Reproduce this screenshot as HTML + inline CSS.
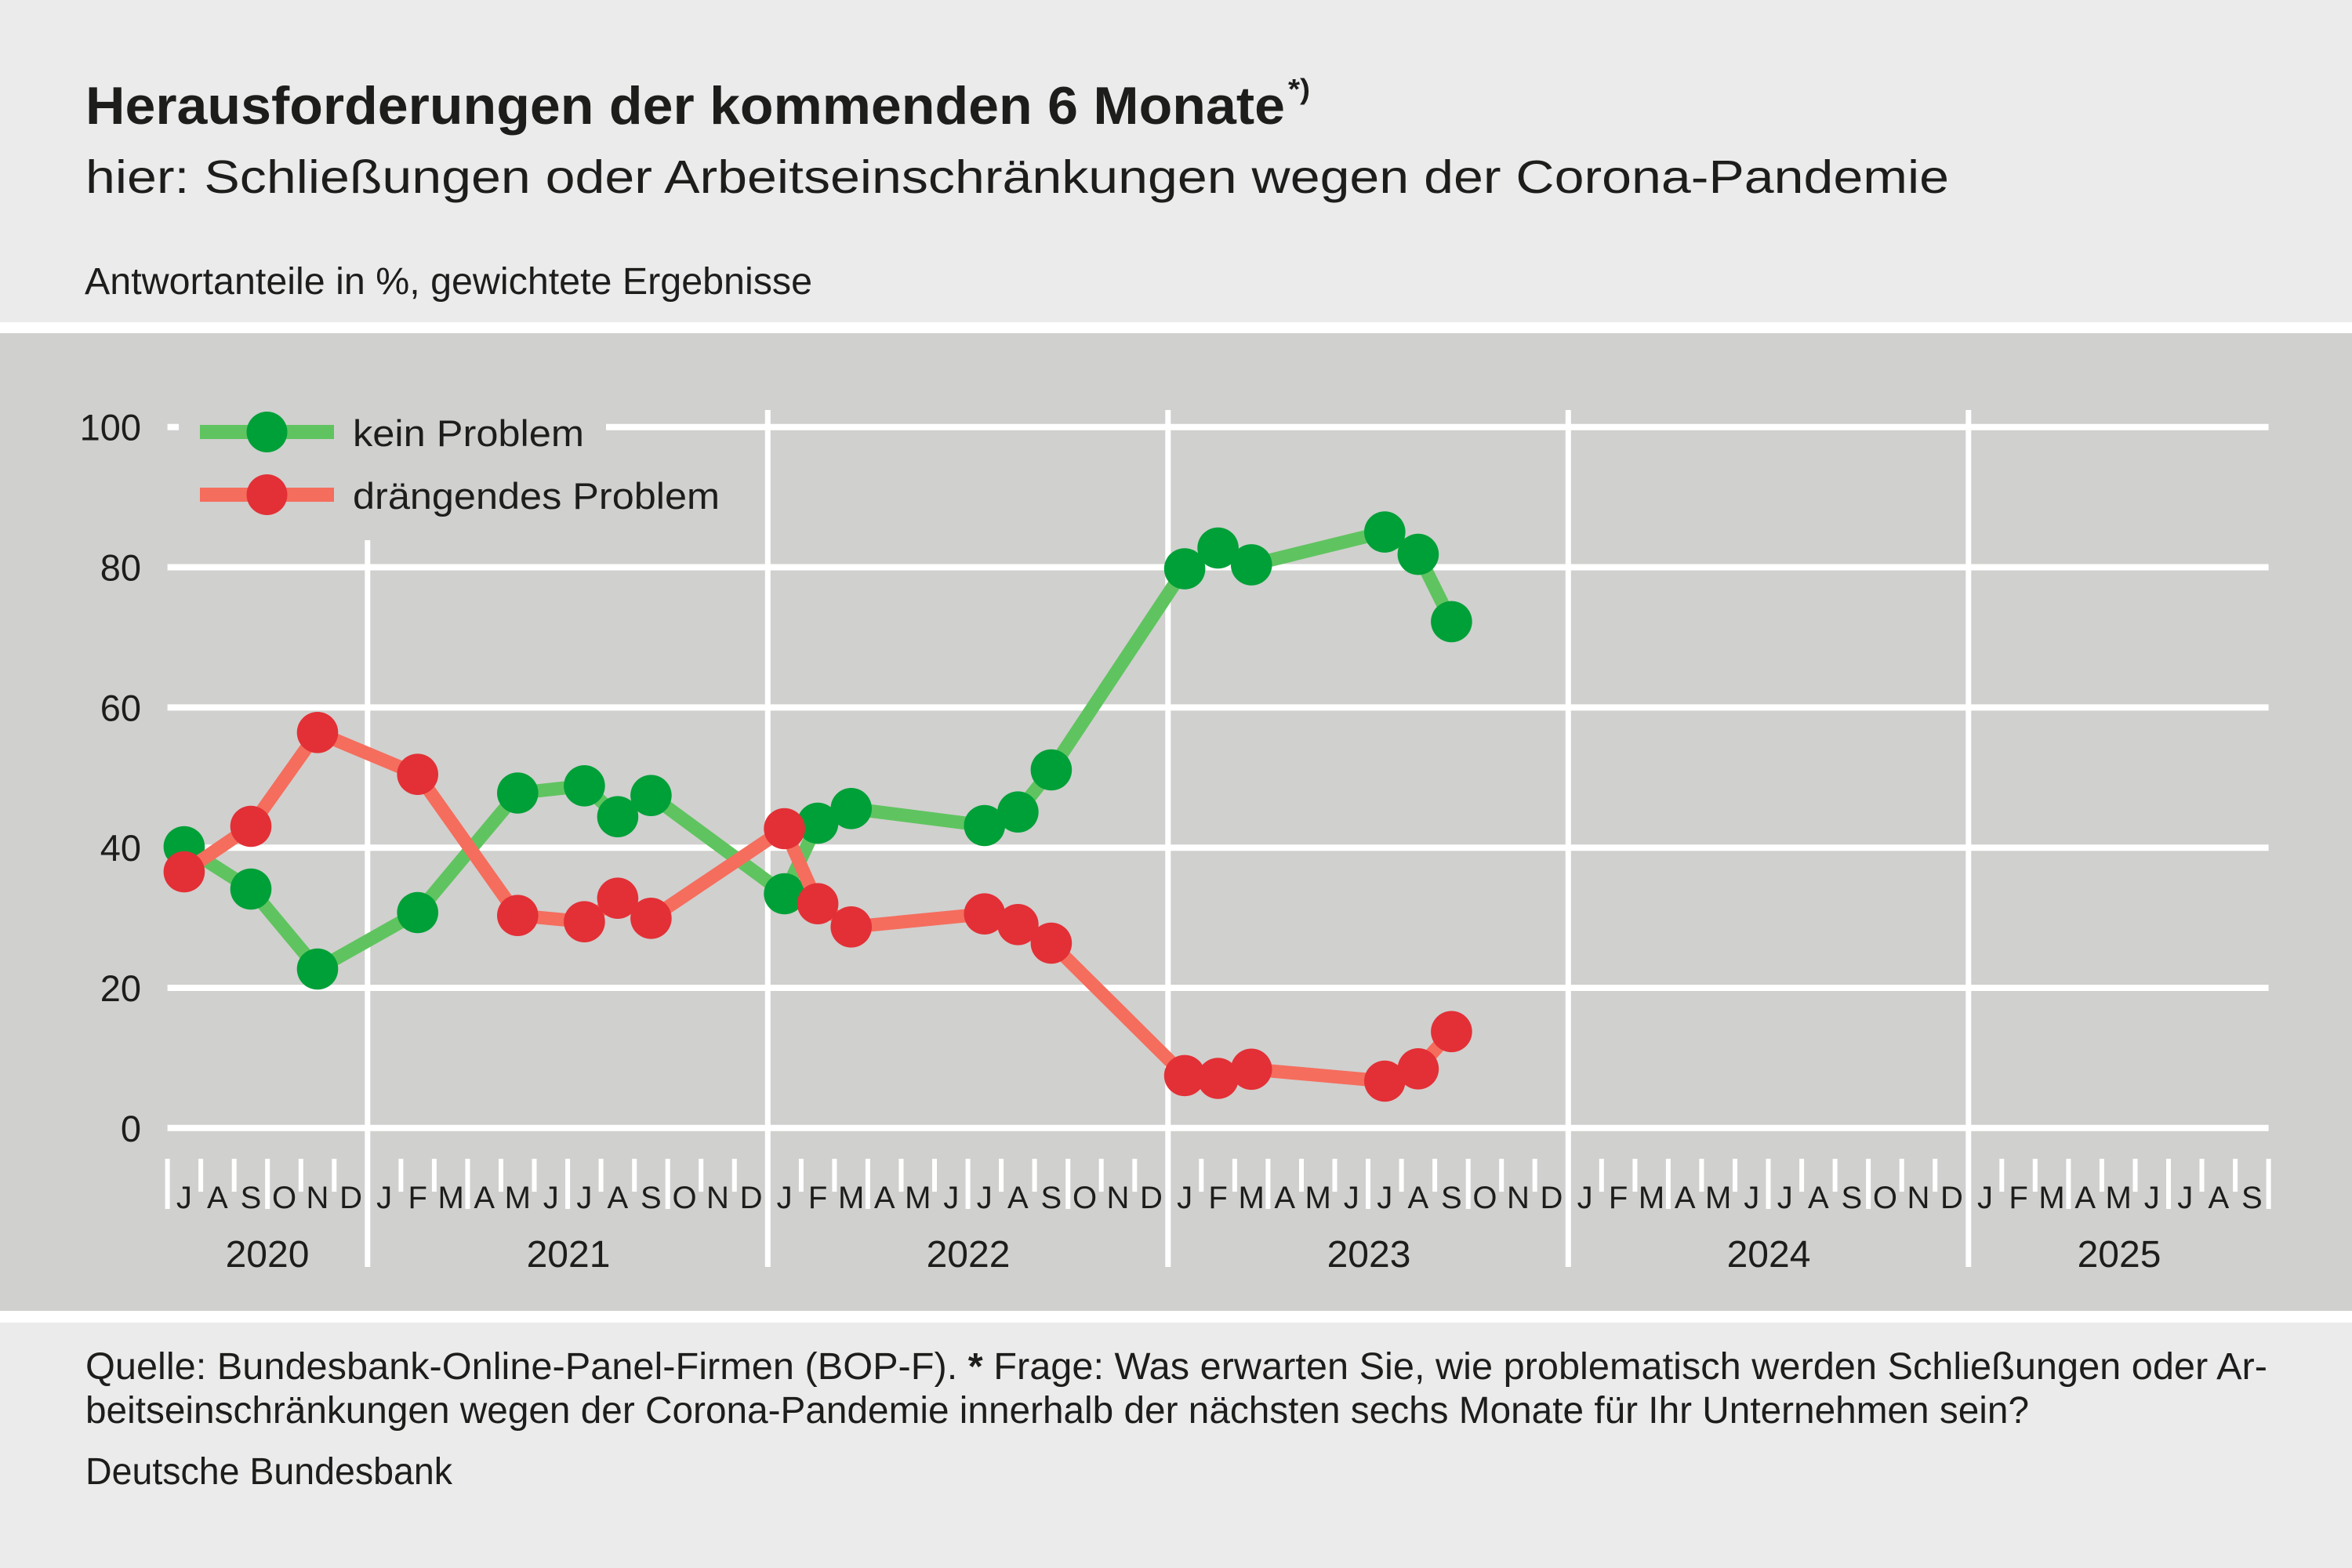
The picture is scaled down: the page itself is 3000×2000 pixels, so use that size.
<!DOCTYPE html>
<html><head><meta charset="utf-8"><style>
html,body{margin:0;padding:0;background:#ebebeb;}
svg{display:block;}
text{font-family:"Liberation Sans",Arial,sans-serif;fill:#1d1d1b;}
</style></head><body>
<svg xmlns="http://www.w3.org/2000/svg" width="3000" height="2000" viewBox="0 0 3000 2000">
<rect x="0" y="0" width="3000" height="2000" fill="#ebebeb"/>
<rect x="0" y="411" width="3000" height="14" fill="#ffffff"/>
<rect x="0" y="425" width="3000" height="1247" fill="#d0d0ce"/>
<rect x="0" y="1672" width="3000" height="15" fill="#ffffff"/>

<!-- titles -->
<text x="109" y="158" font-size="68" font-weight="bold" textLength="1530" lengthAdjust="spacingAndGlyphs">Herausforderungen der kommenden 6 Monate</text>
<text x="1643" y="126" font-size="36" font-weight="bold" textLength="28" lengthAdjust="spacingAndGlyphs">*)</text>
<text x="109" y="246" font-size="59" textLength="2377" lengthAdjust="spacingAndGlyphs">hier: Schließungen oder Arbeitseinschränkungen wegen der Corona-Pandemie</text>
<text x="108" y="375" font-size="48" textLength="928" lengthAdjust="spacingAndGlyphs">Antwortanteile in %, gewichtete Ergebnisse</text>

<!-- gridlines -->
<g stroke="#ffffff" stroke-width="8">
<line x1="213.6" y1="544.7" x2="228" y2="544.7"/>
<line x1="773" y1="544.7" x2="2893.6" y2="544.7"/>
<line x1="213.6" y1="723.5" x2="2893.6" y2="723.5"/>
<line x1="213.6" y1="902.4" x2="2893.6" y2="902.4"/>
<line x1="213.6" y1="1081.2" x2="2893.6" y2="1081.2"/>
<line x1="213.6" y1="1260" x2="2893.6" y2="1260"/>
<line x1="213.6" y1="1438.8" x2="2893.6" y2="1438.8"/>
</g>
<!-- year separators -->
<g stroke="#ffffff" stroke-width="7">
<line x1="468.8" y1="689" x2="468.8" y2="1616"/>
<line x1="979.3" y1="523" x2="979.3" y2="1616"/>
<line x1="1489.8" y1="523" x2="1489.8" y2="1616"/>
<line x1="2000.3" y1="523" x2="2000.3" y2="1616"/>
<line x1="2510.8" y1="523" x2="2510.8" y2="1616"/>
</g>
<!-- long ticks -->
<g stroke="#ffffff" stroke-width="6">
<line x1="213.6" y1="1478" x2="213.6" y2="1542"/>
<line x1="341.2" y1="1478" x2="341.2" y2="1542"/>
<line x1="596.5" y1="1478" x2="596.5" y2="1542"/>
<line x1="724.1" y1="1478" x2="724.1" y2="1542"/>
<line x1="851.7" y1="1478" x2="851.7" y2="1542"/>
<line x1="1106.9" y1="1478" x2="1106.9" y2="1542"/>
<line x1="1234.6" y1="1478" x2="1234.6" y2="1542"/>
<line x1="1362.2" y1="1478" x2="1362.2" y2="1542"/>
<line x1="1617.4" y1="1478" x2="1617.4" y2="1542"/>
<line x1="1745.0" y1="1478" x2="1745.0" y2="1542"/>
<line x1="1872.7" y1="1478" x2="1872.7" y2="1542"/>
<line x1="2127.9" y1="1478" x2="2127.9" y2="1542"/>
<line x1="2255.5" y1="1478" x2="2255.5" y2="1542"/>
<line x1="2383.1" y1="1478" x2="2383.1" y2="1542"/>
<line x1="2638.4" y1="1478" x2="2638.4" y2="1542"/>
<line x1="2766.0" y1="1478" x2="2766.0" y2="1542"/>
<line x1="2893.6" y1="1478" x2="2893.6" y2="1542"/>
</g>
<!-- short ticks -->
<g stroke="#ffffff" stroke-width="6">
<line x1="256.1" y1="1478" x2="256.1" y2="1520"/>
<line x1="298.7" y1="1478" x2="298.7" y2="1520"/>
<line x1="383.8" y1="1478" x2="383.8" y2="1520"/>
<line x1="426.3" y1="1478" x2="426.3" y2="1520"/>
<line x1="511.4" y1="1478" x2="511.4" y2="1520"/>
<line x1="553.9" y1="1478" x2="553.9" y2="1520"/>
<line x1="639.0" y1="1478" x2="639.0" y2="1520"/>
<line x1="681.5" y1="1478" x2="681.5" y2="1520"/>
<line x1="766.6" y1="1478" x2="766.6" y2="1520"/>
<line x1="809.2" y1="1478" x2="809.2" y2="1520"/>
<line x1="894.2" y1="1478" x2="894.2" y2="1520"/>
<line x1="936.8" y1="1478" x2="936.8" y2="1520"/>
<line x1="1021.9" y1="1478" x2="1021.9" y2="1520"/>
<line x1="1064.4" y1="1478" x2="1064.4" y2="1520"/>
<line x1="1149.5" y1="1478" x2="1149.5" y2="1520"/>
<line x1="1192.0" y1="1478" x2="1192.0" y2="1520"/>
<line x1="1277.1" y1="1478" x2="1277.1" y2="1520"/>
<line x1="1319.6" y1="1478" x2="1319.6" y2="1520"/>
<line x1="1404.7" y1="1478" x2="1404.7" y2="1520"/>
<line x1="1447.3" y1="1478" x2="1447.3" y2="1520"/>
<line x1="1532.3" y1="1478" x2="1532.3" y2="1520"/>
<line x1="1574.9" y1="1478" x2="1574.9" y2="1520"/>
<line x1="1660.0" y1="1478" x2="1660.0" y2="1520"/>
<line x1="1702.5" y1="1478" x2="1702.5" y2="1520"/>
<line x1="1787.6" y1="1478" x2="1787.6" y2="1520"/>
<line x1="1830.1" y1="1478" x2="1830.1" y2="1520"/>
<line x1="1915.2" y1="1478" x2="1915.2" y2="1520"/>
<line x1="1957.7" y1="1478" x2="1957.7" y2="1520"/>
<line x1="2042.8" y1="1478" x2="2042.8" y2="1520"/>
<line x1="2085.4" y1="1478" x2="2085.4" y2="1520"/>
<line x1="2170.4" y1="1478" x2="2170.4" y2="1520"/>
<line x1="2213.0" y1="1478" x2="2213.0" y2="1520"/>
<line x1="2298.1" y1="1478" x2="2298.1" y2="1520"/>
<line x1="2340.6" y1="1478" x2="2340.6" y2="1520"/>
<line x1="2425.7" y1="1478" x2="2425.7" y2="1520"/>
<line x1="2468.2" y1="1478" x2="2468.2" y2="1520"/>
<line x1="2553.3" y1="1478" x2="2553.3" y2="1520"/>
<line x1="2595.8" y1="1478" x2="2595.8" y2="1520"/>
<line x1="2680.9" y1="1478" x2="2680.9" y2="1520"/>
<line x1="2723.5" y1="1478" x2="2723.5" y2="1520"/>
<line x1="2808.5" y1="1478" x2="2808.5" y2="1520"/>
<line x1="2851.1" y1="1478" x2="2851.1" y2="1520"/>
</g>

<!-- y labels -->
<g font-size="47" text-anchor="end">
<text x="180" y="561.7">100</text>
<text x="180" y="740.5">80</text>
<text x="180" y="919.4">60</text>
<text x="180" y="1098.2">40</text>
<text x="180" y="1277">20</text>
<text x="180" y="1455.8">0</text>
</g>

<!-- month labels -->
<g font-size="40" text-anchor="middle">
<text x="234.9" y="1541">J</text><text x="277.4" y="1541">A</text><text x="320.0" y="1541">S</text><text x="362.5" y="1541">O</text><text x="405.0" y="1541">N</text><text x="447.6" y="1541">D</text>
<text x="490.1" y="1541">J</text><text x="532.7" y="1541">F</text><text x="575.2" y="1541">M</text><text x="617.7" y="1541">A</text><text x="660.3" y="1541">M</text><text x="702.8" y="1541">J</text><text x="745.4" y="1541">J</text><text x="787.9" y="1541">A</text><text x="830.4" y="1541">S</text><text x="873.0" y="1541">O</text><text x="915.5" y="1541">N</text><text x="958.1" y="1541">D</text>
<text x="1000.6" y="1541">J</text><text x="1043.1" y="1541">F</text><text x="1085.7" y="1541">M</text><text x="1128.2" y="1541">A</text><text x="1170.8" y="1541">M</text><text x="1213.3" y="1541">J</text><text x="1255.8" y="1541">J</text><text x="1298.4" y="1541">A</text><text x="1340.9" y="1541">S</text><text x="1383.5" y="1541">O</text><text x="1426.0" y="1541">N</text><text x="1468.5" y="1541">D</text>
<text x="1511.1" y="1541">J</text><text x="1553.6" y="1541">F</text><text x="1596.2" y="1541">M</text><text x="1638.7" y="1541">A</text><text x="1681.2" y="1541">M</text><text x="1723.8" y="1541">J</text><text x="1766.3" y="1541">J</text><text x="1808.9" y="1541">A</text><text x="1851.4" y="1541">S</text><text x="1893.9" y="1541">O</text><text x="1936.5" y="1541">N</text><text x="1979.0" y="1541">D</text>
<text x="2021.6" y="1541">J</text><text x="2064.1" y="1541">F</text><text x="2106.6" y="1541">M</text><text x="2149.2" y="1541">A</text><text x="2191.7" y="1541">M</text><text x="2234.3" y="1541">J</text><text x="2276.8" y="1541">J</text><text x="2319.3" y="1541">A</text><text x="2361.9" y="1541">S</text><text x="2404.4" y="1541">O</text><text x="2447.0" y="1541">N</text><text x="2489.5" y="1541">D</text>
<text x="2532.0" y="1541">J</text><text x="2574.6" y="1541">F</text><text x="2617.1" y="1541">M</text><text x="2659.7" y="1541">A</text><text x="2702.2" y="1541">M</text><text x="2744.7" y="1541">J</text><text x="2787.3" y="1541">J</text><text x="2829.8" y="1541">A</text><text x="2872.4" y="1541">S</text>
</g>
<!-- year labels -->
<g font-size="48" text-anchor="middle">
<text x="341" y="1616">2020</text>
<text x="725" y="1616">2021</text>
<text x="1235" y="1616">2022</text>
<text x="1746" y="1616">2023</text>
<text x="2256" y="1616">2024</text>
<text x="2703" y="1616">2025</text>
</g>

<!-- legend -->
<line x1="255" y1="551" x2="426" y2="551" stroke="#5fc45f" stroke-width="18"/>
<circle cx="340.5" cy="551" r="26" fill="#00a038"/>
<text x="450" y="569" font-size="47" textLength="295" lengthAdjust="spacingAndGlyphs">kein Problem</text>
<line x1="255" y1="631" x2="426" y2="631" stroke="#f56d5d" stroke-width="18"/>
<circle cx="340.5" cy="631" r="26" fill="#e23036"/>
<text x="450" y="649" font-size="47" textLength="468" lengthAdjust="spacingAndGlyphs">drängendes Problem</text>

<!-- green series -->
<polyline fill="none" stroke="#5fc45f" stroke-width="17" stroke-linejoin="round" points="234.9,1080 320.0,1134 405.0,1236 532.7,1164 660.3,1011.5 745.4,1002.3 787.9,1041.7 830.4,1014.7 1000.6,1140 1043.1,1050 1085.7,1031.3 1255.8,1053 1298.4,1035.7 1340.9,982 1511.1,725.5 1553.6,699 1596.2,720.4 1766.3,678.6 1808.9,707.1 1851.4,792.9"/>
<g fill="#00a038">
<circle cx="234.9" cy="1080" r="26.3"/><circle cx="320.0" cy="1134" r="26.3"/><circle cx="405.0" cy="1236" r="26.3"/><circle cx="532.7" cy="1164" r="26.3"/><circle cx="660.3" cy="1011.5" r="26.3"/><circle cx="745.4" cy="1002.3" r="26.3"/><circle cx="787.9" cy="1041.7" r="26.3"/><circle cx="830.4" cy="1014.7" r="26.3"/><circle cx="1000.6" cy="1140" r="26.3"/><circle cx="1043.1" cy="1050" r="26.3"/><circle cx="1085.7" cy="1031.3" r="26.3"/><circle cx="1255.8" cy="1053" r="26.3"/><circle cx="1298.4" cy="1035.7" r="26.3"/><circle cx="1340.9" cy="982" r="26.3"/><circle cx="1511.1" cy="725.5" r="26.3"/><circle cx="1553.6" cy="699" r="26.3"/><circle cx="1596.2" cy="720.4" r="26.3"/><circle cx="1766.3" cy="678.6" r="26.3"/><circle cx="1808.9" cy="707.1" r="26.3"/><circle cx="1851.4" cy="792.9" r="26.3"/>
</g>
<!-- red series -->
<polyline fill="none" stroke="#f56d5d" stroke-width="17" stroke-linejoin="round" points="234.9,1112 320.0,1054 405.0,934.3 532.7,987.7 660.3,1167.7 745.4,1175.7 787.9,1145.7 830.4,1171.3 1000.6,1057 1043.1,1152.7 1085.7,1182.3 1255.8,1165.7 1298.4,1179.3 1340.9,1203 1511.1,1371.9 1553.6,1375.5 1596.2,1363.8 1766.3,1379 1808.9,1363.3 1851.4,1315.8"/>
<g fill="#e23036">
<circle cx="234.9" cy="1112" r="26.3"/><circle cx="320.0" cy="1054" r="26.3"/><circle cx="405.0" cy="934.3" r="26.3"/><circle cx="532.7" cy="987.7" r="26.3"/><circle cx="660.3" cy="1167.7" r="26.3"/><circle cx="745.4" cy="1175.7" r="26.3"/><circle cx="787.9" cy="1145.7" r="26.3"/><circle cx="830.4" cy="1171.3" r="26.3"/><circle cx="1000.6" cy="1057" r="26.3"/><circle cx="1043.1" cy="1152.7" r="26.3"/><circle cx="1085.7" cy="1182.3" r="26.3"/><circle cx="1255.8" cy="1165.7" r="26.3"/><circle cx="1298.4" cy="1179.3" r="26.3"/><circle cx="1340.9" cy="1203" r="26.3"/><circle cx="1511.1" cy="1371.9" r="26.3"/><circle cx="1553.6" cy="1375.5" r="26.3"/><circle cx="1596.2" cy="1363.8" r="26.3"/><circle cx="1766.3" cy="1379" r="26.3"/><circle cx="1808.9" cy="1363.3" r="26.3"/><circle cx="1851.4" cy="1315.8" r="26.3"/>
</g>

<!-- footer -->
<text x="109" y="1759" font-size="48" textLength="2783" lengthAdjust="spacingAndGlyphs">Quelle: Bundesbank-Online-Panel-Firmen (BOP-F). <tspan font-weight="bold">*</tspan> Frage: Was erwarten Sie, wie problematisch werden Schließungen oder Ar-</text>
<text x="109" y="1815" font-size="48" textLength="2479" lengthAdjust="spacingAndGlyphs">beitseinschränkungen wegen der Corona-Pandemie innerhalb der nächsten sechs Monate für Ihr Unternehmen sein?</text>
<text x="109" y="1893" font-size="48" textLength="468" lengthAdjust="spacingAndGlyphs">Deutsche Bundesbank</text>
</svg>
</body></html>
